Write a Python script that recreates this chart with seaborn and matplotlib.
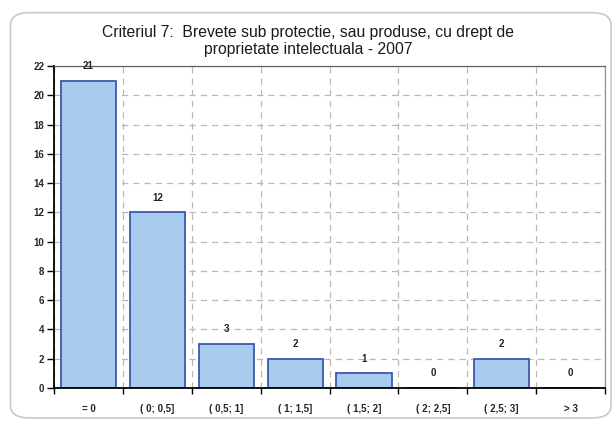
import matplotlib
matplotlib.use("Agg")
import seaborn as sns
from matplotlib import pyplot as plt
from matplotlib.patches import FancyBboxPatch

categories = ["= 0", "( 0; 0,5]", "( 0,5; 1]", "( 1; 1,5]", "( 1,5; 2]", "( 2; 2,5]", "( 2,5; 3]", "> 3"]
values = [21, 12, 3, 2, 1, 0, 2, 0]
title = "Criteriul 7:  Brevete sub protectie, sau produse, cu drept de\nproprietate intelectuala - 2007"

sns.set_style("white")
plt.rcParams['font.family'] = ['Liberation Sans Narrow', 'Liberation Sans', 'DejaVu Sans']

fig = plt.figure(figsize=(6.16, 4.23), dpi=100)
ax = fig.add_axes([0.0877, 0.0827, 0.8945, 0.761])

# rounded frame around the whole chart
frame = FancyBboxPatch((0.017, 0.012), 0.975, 0.958, boxstyle="round,pad=0,rounding_size=0.03",
                       transform=fig.transFigure, facecolor="white", edgecolor="#c8c8c8", linewidth=1.2,
                       zorder=-10)
fig.patches.append(frame)
ax.set_facecolor("white")

sns.barplot(x=categories, y=values, color="#a8ccee", edgecolor="#3c58b0", linewidth=1.3,
            width=0.8, saturation=1, ax=ax)
ax.bar_label(ax.containers[0], padding=7, fontsize=7, fontweight="bold", color="#222222")

ax.set_xlim(-0.5, 7.5)
ax.set_ylim(0, 22)
ax.set_yticks(range(0, 23, 2))
ax.set_xticks([i + 0.5 for i in range(-1, 8)], minor=True)
ax.grid(axis="y", which="major", linestyle=(0, (5, 4)), color="#b8b8b8", linewidth=0.9)
ax.grid(axis="x", which="minor", linestyle=(0, (5, 4)), color="#b8b8b8", linewidth=0.9)
ax.grid(axis="x", which="major", visible=False)
ax.set_axisbelow(True)

ax.tick_params(axis="x", which="major", bottom=False, labelsize=7, pad=8)
ax.tick_params(axis="x", which="minor", bottom=True, length=4, width=1, color="black", direction="out")
ax.tick_params(axis="y", left=True, length=5, width=1, color="black", direction="out", labelsize=7, pad=2)
for lab in ax.get_xticklabels() + ax.get_yticklabels():
    lab.set_fontweight("bold")

ax.spines["top"].set_color("#606060")
ax.spines["top"].set_linewidth(0.9)
ax.spines["right"].set_color("#909090")
ax.spines["right"].set_linewidth(0.9)
for side in ["left", "bottom"]:
    ax.spines[side].set_color("black")
    ax.spines[side].set_linewidth(1.3)

ax.set_xlabel("")
ax.set_ylabel("")
fig.text(0.5, 0.904, title, ha="center", va="center", fontsize=11.3, linespacing=1.15,
         color="#1a1a1a")

fig.savefig("out.png", dpi=100)
